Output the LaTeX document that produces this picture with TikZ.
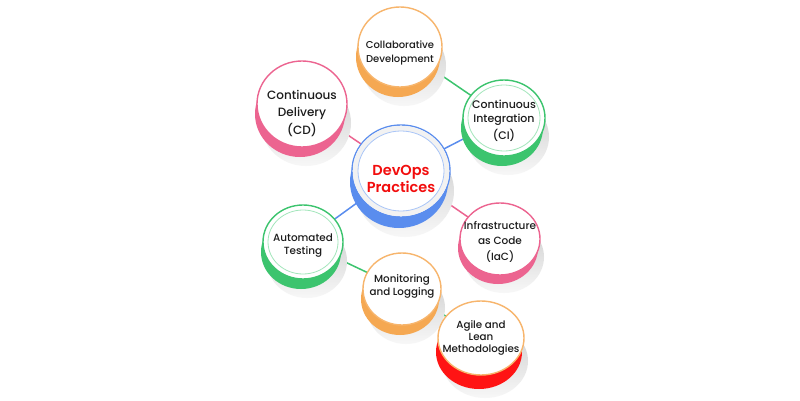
\documentclass[tikz,border=0pt]{standalone}
\usepackage{fontspec}
\setmainfont{Poppins}[UprightFont={* Medium},BoldFont={* SemiBold}]
\usetikzlibrary{shapes.geometric,backgrounds}
\definecolor{cOrange}{HTML}{F5A852}
\definecolor{cOrangeB}{HTML}{F7B56C}
\definecolor{cPink}{HTML}{EC6490}
\definecolor{cGreen}{HTML}{3CC46E}
\definecolor{cGreenL}{HTML}{A3E6BB}
\definecolor{cBlue}{HTML}{5A8DEE}
\definecolor{cBlueL}{HTML}{A9C5F7}
\definecolor{cRed}{HTML}{FF1414}
\definecolor{cTitle}{HTML}{F20D0D}
\definecolor{cText}{HTML}{1C1C1C}
\tikzset{
  face/.style={ellipse, fill=white, line width=1.4pt, inner sep=0pt, outer sep=0pt},
  conn/.style={line width=1.5pt},
  lbl/.style={align=center, text=cText, inner sep=0pt},
}
% name, x, y, rx, ry, side colour, border colour, depth
\newcommand\cyl[8]{%
  \shade[top color=gray!40, bottom color=gray!6] ({#2+4},{#3-#8-9}) ellipse [x radius=#4, y radius=#5];
  \fill[#6] ({#2-2},{#3-#8}) ellipse [x radius=#4, y radius=#5];
  \node[face, draw=#7, minimum width={2*#4pt}, minimum height={2*#5pt}] (#1) at (#2,#3) {};
}
\begin{document}
\begin{tikzpicture}[x=1pt,y=1pt]
\useasboundingbox (0,0) rectangle (800,400);
% cylinders
\cyl{collab}{400}{353}{42}{40}{cOrange}{cOrangeB}{10}
\cyl{cd}{302}{296}{45}{43}{cPink}{cPink}{10}
\cyl{ci}{504}{282}{41}{38}{cGreen}{cGreen}{10}
\cyl{devops}{401}{229}{49}{46}{cBlue}{cBlue}{11}
\cyl{at}{303}{158}{40}{37}{cGreen}{cGreen}{10}
\cyl{iac}{500}{161}{40}{36}{cPink}{cPink}{9}
\cyl{mon}{402}{111}{39}{36}{cOrange}{cOrangeB}{10}
\cyl{agile}{481}{62}{43}{37}{cRed}{cOrangeB}{14}
% inner rings
\fill[gray!10] (devops.center) ellipse [x radius=48.3, y radius=45.3];
\filldraw[fill=white, draw=cBlueL, line width=0.8pt] (devops.center) ellipse [x radius=43, y radius=40];
\draw[cGreenL, line width=0.8pt] (ci.center) ellipse [x radius=36, y radius=33];
\draw[cGreenL, line width=0.8pt] (at.center) ellipse [x radius=35, y radius=32];
% connectors
\begin{scope}[on background layer]
\fill[white] (0,0) rectangle (800,400);
\draw[conn, cPink] (cd.center) -- (devops.center);
\draw[conn, cGreen] (collab.center) -- (ci.center);
\draw[conn, cBlue] (devops.center) -- (ci.center);
\draw[conn, cBlue] (devops.center) -- (at.center);
\draw[conn, cPink] (devops.center) -- (iac.center);
\draw[conn, cGreen] (at.center) -- (mon.center);
\draw[conn, cGreen] (mon.center) -- (agile.center);
\end{scope}
% labels
\node[lbl, font=\fontsize{10}{13.3}\selectfont] (collabT) at (400,347) {Collaborative\\Development};
\node[lbl, font=\fontsize{12}{17.5}\selectfont] (cdT) at (302,287) {Continuous\\Delivery\\(CD)};
\node[lbl, font=\fontsize{11}{13.5}\selectfont] (ciT) at (504,279) {Continuous\\Integration\\[4pt](CI)};
\node[lbl, font=\fontsize{14.5}{16.7}\selectfont\bfseries, text=cTitle] (devopsT) at (401,221) {DevOps\\Practices};
\node[lbl, font=\fontsize{10.4}{12.4}\selectfont] (atT) at (303,154.5) {Automated\\Testing};
\node[lbl, font=\fontsize{10.5}{15.5}\selectfont] (iacT) at (500,158.5) {Infrastructure\\as Code\\(IaC)};
\node[lbl, font=\fontsize{10.3}{12.7}\selectfont] (monT) at (402,113.7) {Monitoring\\and Logging};
\node[lbl, font=\fontsize{10.3}{12.3}\selectfont] (agileT) at (481,62) {Agile and\\Lean\\Methodologies};
\end{tikzpicture}
\end{document}
